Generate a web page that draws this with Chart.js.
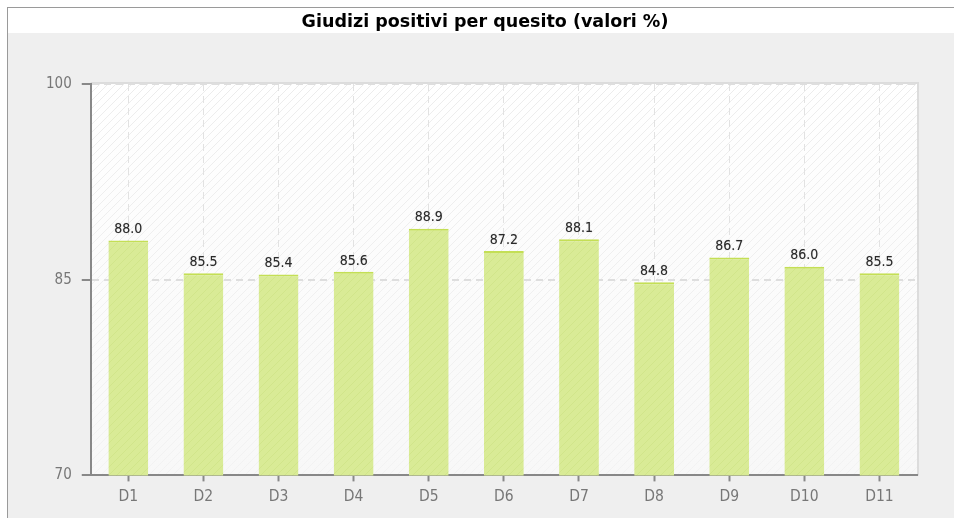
<!DOCTYPE html>
<html>
<head>
<meta charset="utf-8">
<script src="https://cdn.jsdelivr.net/npm/chart.js@4"></script>
<style>
  body { margin: 0; background: #fff; }
  #wrap { width: 954px; height: 518px; }
</style>
</head>
<body>
<div id="wrap"><canvas id="giudiziChart" width="954" height="518"></canvas></div>
<script>
const categories = ["D1", "D2", "D3", "D4", "D5", "D6", "D7", "D8", "D9", "D10", "D11"];
const values = [88.0, 85.5, 85.4, 85.6, 88.9, 87.2, 88.1, 84.8, 86.7, 86.0, 85.5];
const yTicks = [70, 85, 100];
const titleText = "Giudizi positivi per quesito (valori %)";

const narrow = "'DejaVu Sans Condensed', 'Liberation Sans', sans-serif";

// diagonal hatch used for plot background and bars
function hatch(bg, line) {
    const c = document.createElement("canvas");
    c.width = 8; c.height = 8;
    const g = c.getContext("2d");
    g.fillStyle = bg;
    g.fillRect(0, 0, 8, 8);
    g.strokeStyle = line;
    g.lineWidth = 1;
    g.beginPath();
    g.moveTo(0, 8); g.lineTo(8, 0);
    g.moveTo(-4, 4); g.lineTo(4, -4);
    g.moveTo(4, 12); g.lineTo(12, 4);
    g.stroke();
    return g.createPattern(c, "repeat");
}

const frame = {
    id: "frame",
    afterLayout(chart) {
        // center the title over the framed panel, not the plot padding
        if (chart.titleBlock) {
            chart.titleBlock.left = 16;
            chart.titleBlock.right = chart.width;
        }
    },
    beforeDraw(chart) {
        const { ctx, chartArea: a } = chart;
        ctx.save();
        ctx.fillStyle = "#ffffff";
        ctx.fillRect(0, 0, chart.width, chart.height);
        ctx.fillStyle = "#efefef";
        ctx.fillRect(8, 33, chart.width - 8, chart.height - 33);
        ctx.fillStyle = "#9a9a9a";
        ctx.fillRect(7, 7, chart.width - 7, 1);
        ctx.fillRect(7, 7, 1, chart.height - 7);
        // plot area
        ctx.fillStyle = hatch("#ffffff", "#ececec");
        ctx.fillRect(a.left, a.top, a.right - a.left, a.bottom - a.top);
        const grad = ctx.createLinearGradient(0, a.top, 0, a.bottom);
        grad.addColorStop(0, "rgba(245,245,245,0)");
        grad.addColorStop(1, "rgba(245,245,245,0.7)");
        ctx.fillStyle = grad;
        ctx.fillRect(a.left, a.top, a.right - a.left, a.bottom - a.top);
        ctx.strokeStyle = "#dcdcdc";
        ctx.lineWidth = 2;
        ctx.beginPath();
        ctx.moveTo(a.left, a.top - 1);
        ctx.lineTo(a.right + 1, a.top - 1);
        ctx.lineTo(a.right + 1, a.bottom);
        ctx.stroke();
        ctx.restore();
    }
};

const barLabels = {
    id: "barLabels",
    afterDatasetsDraw(chart) {
        const { ctx } = chart;
        const meta = chart.getDatasetMeta(0);
        ctx.save();
        ctx.font = "14px " + narrow;
        ctx.fillStyle = "#2a2a2a";
        ctx.textAlign = "center";
        ctx.textBaseline = "bottom";
        ctx.shadowColor = "rgba(0,0,0,0.3)";
        ctx.shadowBlur = 1;
        meta.data.forEach((bar, i) => {
            ctx.fillText(values[i].toFixed(1), bar.x, bar.y - 4);
        });
        ctx.restore();
    }
};

const ctx = document.getElementById("giudiziChart").getContext("2d");
const giudiziChart = new Chart(ctx, {
    type: "bar",
    data: {
        labels: categories,
        datasets: [{
            data: values,
            backgroundColor: hatch("#d9eb96", "#d1e58a"),
            borderColor: "#c4df55",
            borderWidth: { top: 2, left: 0, right: 0, bottom: 0 },
            borderSkipped: "bottom",
            barPercentage: 0.53,
            categoryPercentage: 1
        }]
    },
    options: {
        responsive: false,
        devicePixelRatio: 1,
        animation: false,
        layout: { padding: { left: 36, right: 37, top: 0, bottom: 6 } },
        plugins: {
            legend: { display: false },
            tooltip: { enabled: false },
            title: {
                display: true,
                text: titleText,
                color: "#000",
                font: { family: "'DejaVu Sans', Verdana, sans-serif", size: 17.5, weight: "bold" },
                padding: { top: 12, bottom: 51 }
            }
        },
        scales: {
            x: {
                grid: {
                    offset: false,
                    color: "#e2e2e2",
                    tickColor: "#888",
                    tickLength: 6,
                    tickWidth: 2
                },
                border: { color: "#888", width: 2, dash: [7, 5] },
                ticks: {
                    color: "#777",
                    padding: 6,
                    font: { family: narrow, size: 15.5 }
                }
            },
            y: {
                min: 70,
                max: 100,
                afterBuildTicks(axis) {
                    axis.ticks = yTicks.map(v => ({ value: v }));
                },
                grid: {
                    color: "#dedede",
                    tickColor: "#888",
                    tickLength: 9,
                    tickWidth: 2,
                    lineWidth: 2
                },
                border: { color: "#888", width: 2, dash: [7, 5] },
                ticks: {
                    color: "#777",
                    padding: 10,
                    font: { family: narrow, size: 15 }
                }
            }
        }
    },
    plugins: [frame, barLabels]
});
</script>
</body>
</html>
